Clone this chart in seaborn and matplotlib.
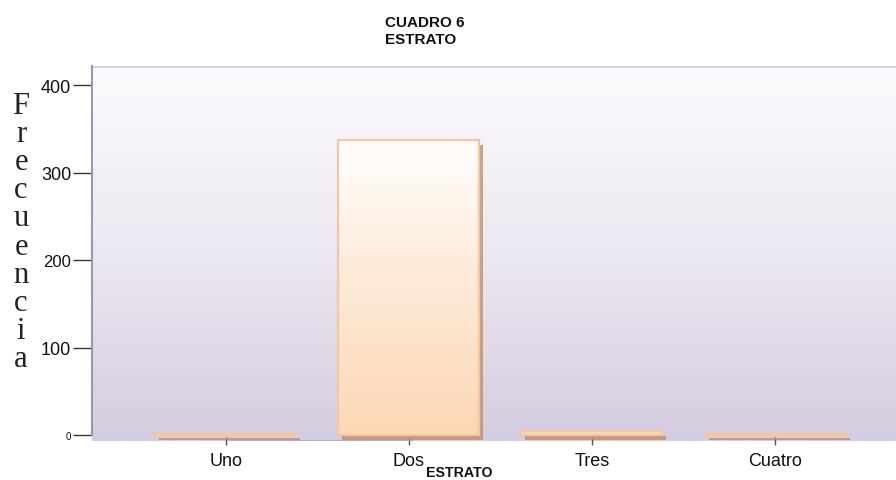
import numpy as np
import pandas as pd
import matplotlib
matplotlib.use("Agg")
import matplotlib.pyplot as plt
import matplotlib.transforms as mtransforms
from matplotlib.colors import LinearSegmentedColormap
import seaborn as sns

# ---- data ----
categories = ["Uno", "Dos", "Tres", "Cuatro"]
frecuencia = [3, 337, 5, 3]
yticks = [0, 100, 200, 300, 400]
ytick_sizes = [7, 13, 12, 13, 13]
title_text = "CUADRO 6\nESTRATO"
xlabel_text = "ESTRATO"
ylabel_text = "Frecuencia"

df = pd.DataFrame({"cat": categories, "freq": frecuencia})

sns.set_theme(style="white")
plt.rcParams["font.family"] = ["Liberation Sans", "DejaVu Sans"]

W, H = 896, 481
fig = plt.figure(figsize=(W / 100, H / 100), dpi=100)
ax = fig.add_axes([92 / W, 1 - 442 / H, (W - 92) / W, (442 - 67) / H])

xlim = (-0.73, 3.66)
ylim = (-6.5, 422)

# background gradient (white at top, lavender at bottom)
bg_cmap = LinearSegmentedColormap.from_list("bg", ["#fbfbfd", "#ece8f1", "#d4cce0"])
grad = np.linspace(0, 1, 256).reshape(-1, 1)
ax.imshow(grad, extent=[xlim[0], xlim[1], ylim[0], ylim[1]], aspect="auto",
          cmap=bg_cmap, zorder=0, origin="upper")
ax.axhline(ylim[1], color="#d6cfe2", lw=2, zorder=1)

# bottom floor strip
ax.axhspan(ylim[0], 0, color="#aba3ba", zorder=1)

# shadow bars
sns.barplot(data=df, x="cat", y="freq", order=categories, color="#c48d6b",
            width=0.77, saturation=1, ax=ax, zorder=2)
offset = mtransforms.offset_copy(ax.transData, fig=fig, x=4, y=-5, units="dots")
shadow_patches = list(ax.patches)
for p in shadow_patches:
    p.set_transform(offset)
    p.set_alpha(0.8)
    p.set_linewidth(0)

# main bars
sns.barplot(data=df, x="cat", y="freq", order=categories, color="#fcd9b9",
            width=0.77, saturation=1, ax=ax, zorder=3)
bar_cmap = LinearSegmentedColormap.from_list("bar", ["#fffefd", "#fde9d6", "#fcd7b5"])
main_patches = [p for p in ax.patches if p not in shadow_patches]
for p in main_patches:
    p.set_edgecolor("#f6c79e")
    p.set_linewidth(1.6)
    x0, y0 = p.get_x(), p.get_y()
    w, h = p.get_width(), p.get_height()
    if h > 20:
        im = ax.imshow(grad, extent=[x0, x0 + w, y0, y0 + h], aspect="auto",
                       cmap=bar_cmap, zorder=3.5, origin="upper")
        im.set_clip_path(p)
        p.set_zorder(4)
        p.set_facecolor("none")

ax.set_xlim(*xlim)
ax.set_ylim(*ylim)

# spines
for s in ["top", "right", "bottom"]:
    ax.spines[s].set_visible(False)
ax.spines["left"].set_color("#9d96ae")
ax.spines["left"].set_linewidth(1.5)
ax.spines["left"].set_bounds(0, ylim[1])

ax.set_yticks(yticks)
ax.set_yticklabels([str(v) for v in yticks])
for lbl, fs in zip(ax.get_yticklabels(), ytick_sizes):
    lbl.set_fontsize(fs)
    lbl.set_color("#111111")
ax.tick_params(axis="y", left=True, length=14, width=1, color="#333333", pad=1)
ax.tick_params(axis="x", bottom=True, length=6, width=1, color="#555555",
               labelsize=13, pad=5, direction="inout")
for lbl in ax.get_xticklabels():
    lbl.set_color("#111111")

ax.set_xlabel("")
ax.set_ylabel("")

fig.text(385 / W, 1 - 16 / H, title_text, ha="left", va="top",
         fontsize=11, fontweight="bold", linespacing=1.3, color="#111111")
fig.text(459 / W, 1 - 480 / H, xlabel_text, ha="center", va="bottom",
         fontsize=10.2, fontweight="bold", color="#111111")
fig.text(21 / W, 1 - 92 / H, "\n".join(ylabel_text), ha="center", va="top",
         fontsize=22, family=["Liberation Serif", "DejaVu Serif"],
         linespacing=0.96, color="#222222")

fig.savefig("out.png", dpi=100)
